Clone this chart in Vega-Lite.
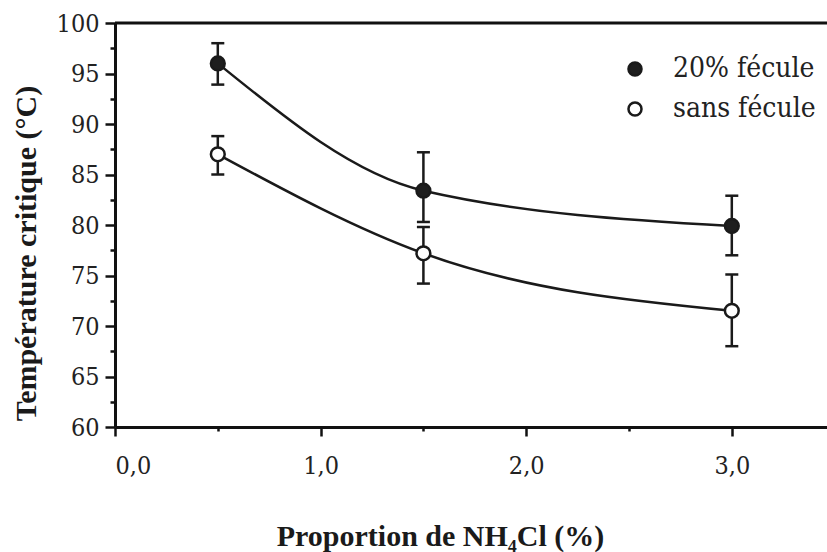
{
  "$schema": "https://vega.github.io/schema/vega-lite/v6.json",
  "autosize": "none",
  "width": 712,
  "height": 404,
  "padding": {"left": 115, "top": 23, "right": 0, "bottom": 125},
  "background": "white",
  "config": {
    "view": {"stroke": null},
    "axis": {
      "grid": false,
      "domainColor": "#111",
      "domainWidth": 3,
      "tickColor": "#111",
      "tickWidth": 2.5,
      "labelFont": "DejaVu Serif Condensed, DejaVu Serif",
      "labelFontSize": 25,
      "labelColor": "#222",
      "labelOverlap": false,
      "titleFont": "Liberation Serif",
      "titleFontWeight": "bold",
      "titleFontSize": 30,
      "titleColor": "#1a1a1a"
    }
  },
  "data": {
    "values": [
      {"x": 0.5, "y": 96.0, "lo": 93.9, "hi": 98.0, "s": "20% fécule"},
      {"x": 1.5, "y": 83.4, "lo": 80.3, "hi": 87.2, "s": "20% fécule"},
      {"x": 3.0, "y": 79.9, "lo": 77.0, "hi": 82.9, "s": "20% fécule"},
      {"x": 0.5, "y": 87.0, "lo": 85.0, "hi": 88.8, "s": "sans fécule"},
      {"x": 1.5, "y": 77.2, "lo": 74.2, "hi": 79.8, "s": "sans fécule"},
      {"x": 3.0, "y": 71.5, "lo": 68.0, "hi": 75.1, "s": "sans fécule"}
    ]
  },
  "encoding": {
    "x": {
      "field": "x", "type": "quantitative",
      "scale": {"domain": [0, 3.463], "nice": false, "zero": false},
      "axis": {
        "values": [0, 0.5, 1, 1.5, 2, 2.5, 3],
        "tickSize": {"condition": {"test": "datum.value % 1 === 0", "value": 9}, "value": 4},
        "labelExpr": "datum.value % 1 === 0 ? replace(format(datum.value, '.1f'), '.', ',') : ''",
        "labelPadding": 17,
        "title": "Proportion de NH₄Cl (%)",
        "titleX": 325,
        "titleY": 118,
        "titleAlign": "center",
        "titleBaseline": "alphabetic"
      }
    },
    "y": {
      "field": "y", "type": "quantitative",
      "scale": {"domain": [60, 100], "nice": false, "zero": false},
      "axis": {
        "values": [60, 62.5, 65, 67.5, 70, 72.5, 75, 77.5, 80, 82.5, 85, 87.5, 90, 92.5, 95, 97.5, 100],
        "tickSize": {"condition": {"test": "datum.value % 5 === 0", "value": 10}, "value": 5},
        "labelExpr": "datum.value % 5 === 0 ? format(datum.value, 'd') : ''",
        "labelPadding": 6,
        "title": "Température critique (°C)",
        "titleX": -80,
        "titleY": 230,
        "titleAlign": "center",
        "titleBaseline": "alphabetic",
        "titleAngle": -90
      }
    }
  },
  "layer": [
    {
      "data": {"values": [{"top": 100}]},
      "mark": {"type": "rule", "strokeWidth": 3, "color": "#111"},
      "encoding": {"x": null, "y": {"field": "top", "type": "quantitative"}}
    },
    {
      "mark": {"type": "rule", "strokeWidth": 2.5, "color": "#1a1a1a"},
      "encoding": {"y": {"field": "lo", "type": "quantitative"}, "y2": {"field": "hi"}}
    },
    {
      "mark": {"type": "tick", "orient": "horizontal", "size": 13, "thickness": 2.5, "color": "#1a1a1a", "opacity": 1},
      "encoding": {"y": {"field": "lo", "type": "quantitative"}}
    },
    {
      "mark": {"type": "tick", "orient": "horizontal", "size": 13, "thickness": 2.5, "color": "#1a1a1a", "opacity": 1},
      "encoding": {"y": {"field": "hi", "type": "quantitative"}}
    },
    {
      "mark": {"type": "line", "interpolate": "monotone", "strokeWidth": 2.5, "color": "#1a1a1a"},
      "encoding": {"detail": {"field": "s"}}
    },
    {
      "mark": {"type": "circle", "size": 190, "stroke": "#1a1a1a", "strokeWidth": 2.5, "opacity": 1},
      "encoding": {
        "fill": {
          "field": "s", "type": "nominal",
          "scale": {"domain": ["20% fécule", "sans fécule"], "range": ["#1e1e1e", "#ffffff"]},
          "legend": {
            "title": null,
            "orient": "none",
            "legendX": 506,
            "legendY": 32,
            "symbolType": "circle",
            "symbolSize": 170,
            "symbolStrokeColor": "#1a1a1a",
            "symbolStrokeWidth": 2.5,
            "labelFont": "DejaVu Serif Condensed, DejaVu Serif",
            "labelFontSize": 28,
            "labelColor": "#222",
            "labelOffset": 24,
            "rowPadding": 12
          }
        }
      }
    }
  ]
}
